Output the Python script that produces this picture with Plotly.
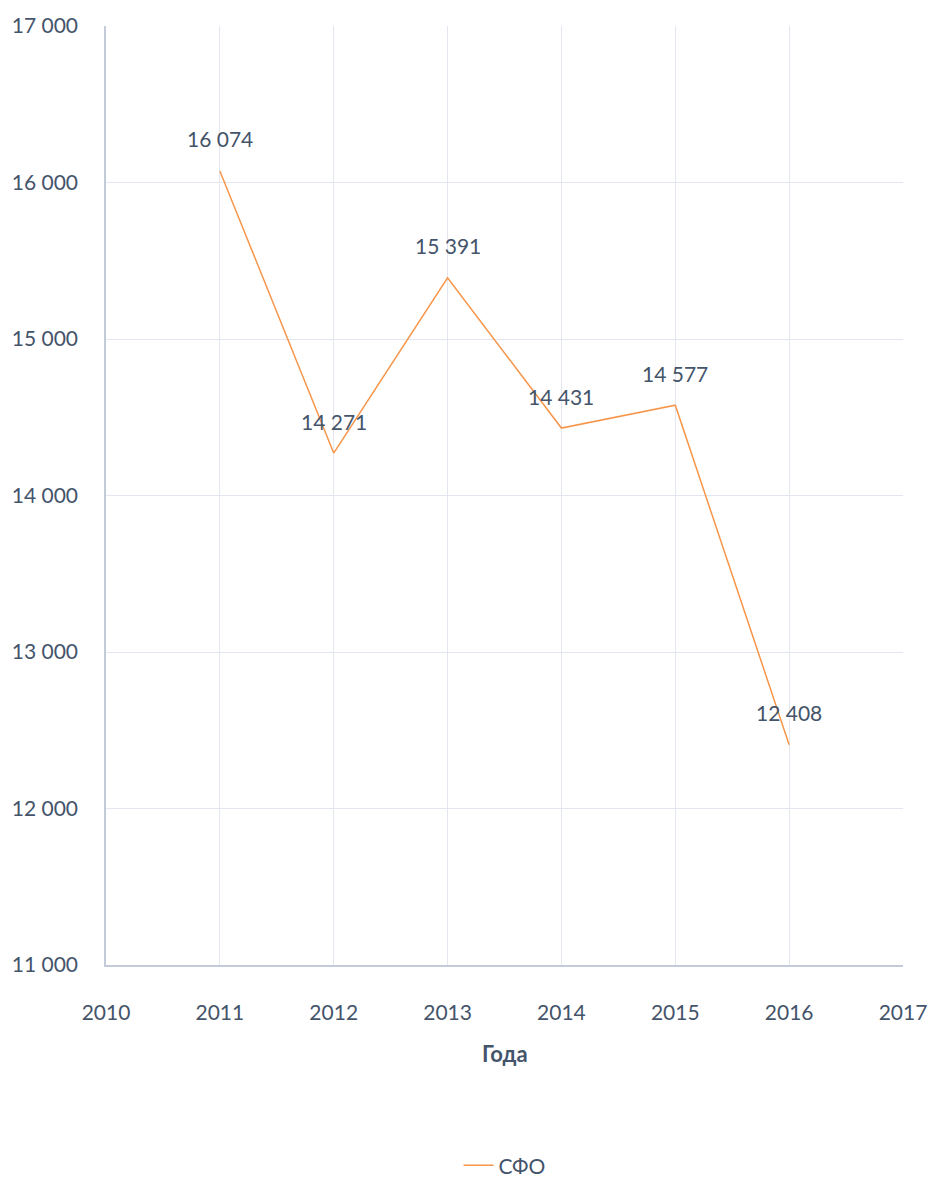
import plotly.graph_objects as go

years = [2011, 2012, 2013, 2014, 2015, 2016]
values = [16074, 14271, 15391, 14431, 14577, 12408]
series_name = "СФО"
x_title = "Года"

text_color = "#44546A"
line_color = "#F7964A"
font_family = "Lato, 'Open Sans', sans-serif"

fig = go.Figure()
fig.add_trace(go.Scatter(
    x=years, y=values, mode="lines", name=series_name,
    line=dict(color=line_color, width=1.5),
))

for xv, yv in zip(years, values):
    fig.add_annotation(
        x=xv, y=yv, text=f"{yv:,}".replace(",", " "), showarrow=False,
        yshift=32, font=dict(size=21, color=text_color, family=font_family),
    )

fig.add_annotation(
    x=0.5, y=-90/959, xref="paper", yref="paper", text=f"<b>{x_title}</b>",
    showarrow=False, yanchor="middle",
    font=dict(size=22, color=text_color, family=font_family),
)

fig.update_layout(
    width=939, height=1198,
    margin=dict(l=104, r=32, t=23, b=216),
    paper_bgcolor="white", plot_bgcolor="white",
    separators=". ",
    font=dict(family=font_family, size=21, color=text_color),
    showlegend=True,
    legend=dict(orientation="h", x=0.5, xanchor="center", y=-205/959, yanchor="middle",
                font=dict(size=21, color=text_color)),
    xaxis=dict(
        range=[2010, 2017], dtick=1, tick0=2010, showgrid=True, gridcolor="#E3E6EE",
        gridwidth=1, showline=True, linecolor="#C3CAD8", linewidth=1.5,
        zeroline=False, ticks="", ticklabelstandoff=28, fixedrange=True,
    ),
    yaxis=dict(
        range=[11000, 17000], dtick=1000, tickformat=",d", showgrid=True,
        gridcolor="#E3E6EE", gridwidth=1, showline=True, linecolor="#C3CAD8",
        linewidth=1.5, zeroline=False, ticks="", ticklabelstandoff=22,
    ),
)

fig.write_html(
    "out.html",
    config={"displayModeBar": False},
    post_script="document.body.style.margin='0';document.body.style.overflow='hidden';",
)
